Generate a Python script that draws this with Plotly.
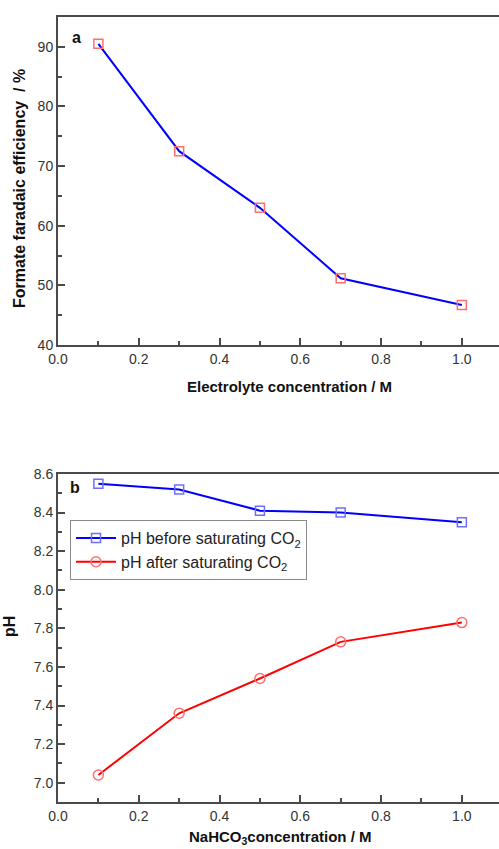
import plotly.graph_objects as go

# Faradaic efficiency vs. electrolyte concentration (panel a)
conc = [0.1, 0.3, 0.5, 0.7, 1.0]
fe_formate = [90.5, 72.5, 63.0, 51.2, 46.7]

# pH before / after CO2 saturation vs. NaHCO3 concentration (panel b)
ph_before = [8.55, 8.52, 8.41, 8.40, 8.35]
ph_after = [7.04, 7.36, 7.54, 7.73, 7.83]

x_ticks = [0.0, 0.2, 0.4, 0.6, 0.8, 1.0]
x_ticklabels = ["0.0", "0.2", "0.4", "0.6", "0.8", "1.0"]
fe_ticks = [40, 50, 60, 70, 80, 90]
ph_ticks = [7.0, 7.2, 7.4, 7.6, 7.8, 8.0, 8.2, 8.4, 8.6]
ph_ticklabels = ["7.0", "7.2", "7.4", "7.6", "7.8", "8.0", "8.2", "8.4", "8.6"]

W, H = 499, 849
ML, MR, MT, MB = 58, 0, 17, 47
PH = H - MT - MB
PW = W - ML - MR


def py(p):
    return (H - MB - p) / PH


def px(p):
    return (p - ML) / PW


FONT = "Liberation Sans, Arial, sans-serif"
AX_COL = "#4a4a4a"
TICK_FONT = dict(family=FONT, size=14, color="#333333")

fig = go.Figure()

fig.add_trace(go.Scatter(
    x=conc, y=fe_formate, mode="lines+markers", xaxis="x", yaxis="y",
    line=dict(color="#0000ff", width=2),
    marker=dict(symbol="square-open", size=9, color="#ff6f6f", line=dict(width=1.5)),
    showlegend=False,
))

fig.add_trace(go.Scatter(
    x=conc, y=ph_before, mode="lines+markers", xaxis="x2", yaxis="y2",
    name="pH before saturating CO<sub>2</sub>",
    line=dict(color="#0000ff", width=2),
    marker=dict(symbol="square-open", size=9, color="#6f6fff", line=dict(width=1.5)),
))
fig.add_trace(go.Scatter(
    x=conc, y=ph_after, mode="lines+markers", xaxis="x2", yaxis="y2",
    name="pH after saturating CO<sub>2</sub>",
    line=dict(color="#ff0000", width=2),
    marker=dict(symbol="circle-open", size=10, color="#ff6f6f", line=dict(width=1.5)),
))

common_x = dict(
    range=[0, 1.092], tickvals=x_ticks, ticktext=x_ticklabels,
    ticks="inside", ticklen=7, tickwidth=1.5, tickcolor=AX_COL,
    minor=dict(dtick=0.1, ticks="inside", ticklen=4, tickwidth=1.5, tickcolor=AX_COL),
    showline=True, linecolor=AX_COL, linewidth=2, mirror=True,
    showgrid=False, zeroline=False, tickfont=TICK_FONT,
)
common_y = dict(
    ticks="inside", ticklen=7, tickwidth=1.5, tickcolor=AX_COL,
    showline=True, linecolor=AX_COL, linewidth=2, mirror=False,
    showgrid=False, zeroline=False, tickfont=TICK_FONT,
)

top_dom = [py(345), 1.0]
bot_dom = [0.0, py(474)]

fig.update_layout(
    width=W, height=H,
    margin=dict(l=ML, r=MR, t=MT, b=MB),
    paper_bgcolor="white", plot_bgcolor="white",
    xaxis=dict(common_x, domain=[0, 1], anchor="y"),
    yaxis=dict(common_y, domain=top_dom, anchor="x", range=[40, 95],
               tickvals=fe_ticks, minor=dict(dtick=5, ticks="inside", ticklen=4,
                                             tickwidth=1.5, tickcolor=AX_COL)),
    xaxis2=dict(common_x, domain=[0, 1], anchor="y2"),
    yaxis2=dict(common_y, domain=bot_dom, anchor="x2", range=[6.9, 8.6],
                tickvals=ph_ticks, ticktext=ph_ticklabels,
                minor=dict(dtick=0.1, ticks="inside", ticklen=4,
                           tickwidth=1.5, tickcolor=AX_COL)),
    legend=dict(
        x=px(70), y=py(520), xanchor="left", yanchor="top",
        bgcolor="white", bordercolor="#8a8a8a", borderwidth=1,
        font=dict(family=FONT, size=16, color="#222222"),
        itemwidth=40, tracegroupgap=2,
    ),
)

title_font = dict(family=FONT, size=15, color="#111111")
annotations = [
    dict(text="<b>a</b>", x=px(76), y=py(37), font=dict(family=FONT, size=16, color="#111111")),
    dict(text="<b>b</b>", x=px(75), y=py(487), font=dict(family=FONT, size=16, color="#111111")),
    dict(text="<b>Electrolyte concentration / M</b>", x=px(289), y=py(386), font=title_font),
    dict(text="<b>NaHCO<sub>3</sub>concentration / M</b>", x=px(280), y=py(837), font=title_font),
    dict(text="<b>Formate faradaic efficiency  / %</b>", x=px(20), y=py(189),
         textangle=-90, font=dict(family=FONT, size=16, color="#111111")),
    dict(text="<b>pH</b>", x=px(9), y=py(627), textangle=-90,
         font=dict(family=FONT, size=16, color="#111111")),
]
for a in annotations:
    a.update(xref="paper", yref="paper", showarrow=False, xanchor="center", yanchor="middle")
fig.update_layout(annotations=annotations)

fig.write_html("out.html")
